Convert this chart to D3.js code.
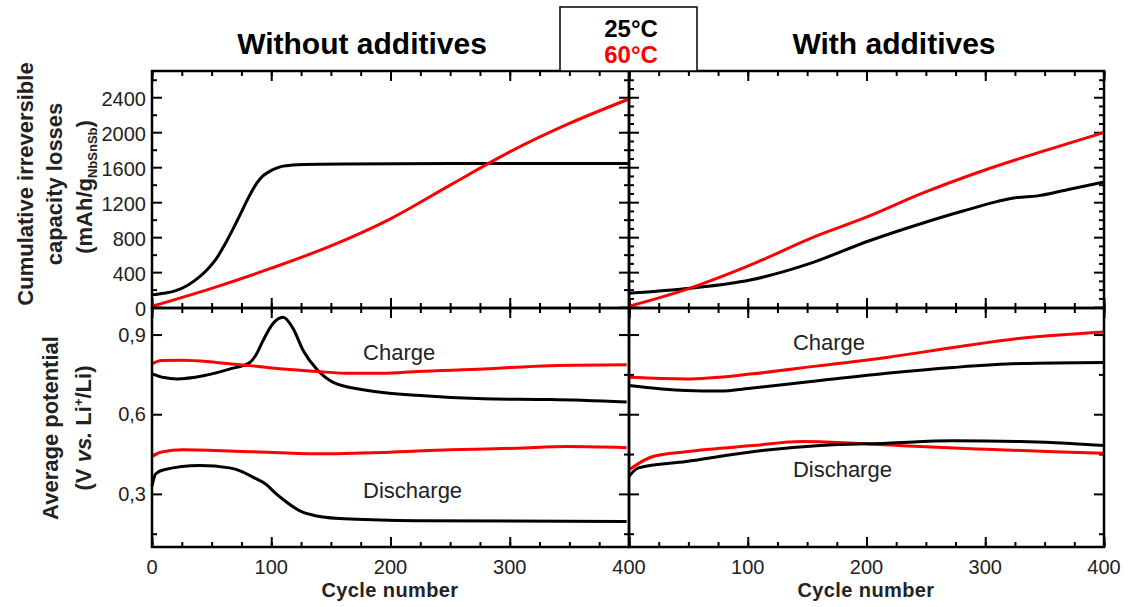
<!DOCTYPE html>
<html>
<head>
<meta charset="utf-8">
<script src="https://cdn.jsdelivr.net/npm/d3@7"></script>
<style>
  body { margin: 0; background: #fff; }
  svg text { font-family: "Liberation Sans", Arial, sans-serif; }
  .tick line { stroke: #000; stroke-width: 2; }
</style>
</head>
<body>
<div id="chart"></div>
<script>
// cycle number ticks
const cycleTicks = [0, 100, 200, 300, 400];
const cycleMinor = d3.range(0, 401, 25);

// cumulative irreversible capacity losses (mAh/g), [cycle, value]
const lossTicks = [0, 400, 800, 1200, 1600, 2000, 2400];
const lossNoAdd25 = [[0,140],[10,158],[20,188],[30,250],[40,348],[47,440],[54,555],[61,715],[68,895],[74,1060],[79,1200],[84,1330],[88,1420],[93,1500],[99,1555],[105,1592],[110,1612],[118,1625],[127,1632],[160,1638],[250,1642],[400,1642]];
const lossNoAdd60 = [[0,10],[50,215],[100,445],[150,700],[200,1010],[250,1395],[300,1775],[350,2100],[400,2380]];
const lossAdd25 = [[0,158],[51,215],[102,310],[152,498],[203,762],[245,951],[282,1102],[327,1253],[344,1272],[370,1345],[400,1430]];
const lossAdd60 = [[0,10],[51,215],[102,479],[152,781],[203,1045],[245,1291],[301,1574],[344,1763],[400,1997]];

// average potential (V vs Li+/Li), [cycle, value]
const potTicks = [0.3, 0.6, 0.9];
const potMinor = [0.15, 0.45, 0.75];
const chargeNoAdd25 = [[0,0.752],[10,0.738],[21,0.733],[43,0.745],[65,0.770],[82,0.795],[88,0.830],[93,0.876],[101,0.939],[110,0.965],[118,0.925],[127,0.838],[138,0.770],[152,0.720],[177,0.692],[222,0.671],[278,0.658],[334,0.655],[398,0.646]];
const chargeNoAdd60 = [[0,0.789],[8,0.802],[26,0.803],[54,0.795],[82,0.783],[110,0.770],[138,0.761],[166,0.754],[194,0.754],[222,0.761],[278,0.770],[334,0.783],[398,0.786]];
const dischargeNoAdd60 = [[0,0.441],[8,0.458],[26,0.466],[82,0.459],[138,0.451],[194,0.456],[250,0.466],[306,0.472],[348,0.478],[398,0.474]];
const dischargeNoAdd25 = [[0,0.329],[3,0.375],[10,0.391],[40,0.407],[65,0.398],[75,0.385],[85,0.362],[96,0.335],[103,0.305],[110,0.279],[124,0.236],[138,0.217],[166,0.205],[222,0.199],[398,0.196]];
const chargeAdd60 = [[0,0.739],[48,0.733],[104,0.752],[161,0.783],[217,0.814],[273,0.851],[330,0.886],[400,0.910]];
const chargeAdd25 = [[0,0.708],[48,0.689],[76,0.687],[104,0.699],[161,0.727],[217,0.754],[273,0.776],[330,0.791],[400,0.795]];
const dischargeAdd60 = [[0,0.391],[20,0.441],[48,0.459],[104,0.482],[146,0.497],[189,0.491],[245,0.478],[301,0.468],[358,0.459],[400,0.453]];
const dischargeAdd25 = [[0,0.366],[8,0.398],[48,0.422],[104,0.459],[161,0.482],[217,0.491],[273,0.500],[330,0.497],[400,0.482]];

const colors = {c25: "#000000", c60: "#ff0000"};

const width = 1128, height = 607;
const svg = d3.select("#chart").append("svg")
    .attr("width", width)
    .attr("height", height);

// panel geometry
const xLeft = d3.scaleLinear().domain([0, 400]).range([152, 629]);
const xRight = d3.scaleLinear().domain([0, 400]).range([629, 1104]);
const yLoss = d3.scaleLinear().domain([-10, 2700]).range([308, 71]);
const yPot = d3.scaleLinear().domain([0.1, 1.0]).range([547, 308]);

const commaFmt = d3.formatLocale({decimal: ",", thousands: ".", grouping: [3], currency: ["", ""]}).format(".1f");

function drawTicks(x, y, yMajor, yMinor) {
    const [x0, x1] = x.range();
    const [y1, y0] = y.range();
    const g = svg.append("g");
    const axes = [
        [d3.axisBottom(x).tickValues(cycleTicks), `translate(0,${y1})`, -10],
        [d3.axisBottom(x).tickValues(cycleMinor), `translate(0,${y1})`, -5],
        [d3.axisTop(x).tickValues(cycleTicks), `translate(0,${y0})`, -10],
        [d3.axisTop(x).tickValues(cycleMinor), `translate(0,${y0})`, -5],
        [d3.axisLeft(y).tickValues(yMajor), `translate(${x0},0)`, -10],
        [d3.axisLeft(y).tickValues(yMinor), `translate(${x0},0)`, -5],
        [d3.axisRight(y).tickValues(yMajor), `translate(${x1},0)`, -10],
        [d3.axisRight(y).tickValues(yMinor), `translate(${x1},0)`, -5]
    ];
    axes.forEach(([ax, tr, size]) => {
        g.append("g").attr("transform", tr)
            .call(ax.tickSize(size).tickFormat(""))
            .call(s => s.select(".domain").remove());
    });
}

function drawLine(x, y, data, color) {
    const line = d3.line()
        .x(d => x(d[0]))
        .y(d => y(d[1]))
        .curve(d3.curveMonotoneX);
    svg.append("path")
        .datum(data)
        .attr("d", line)
        .attr("fill", "none")
        .attr("stroke", color)
        .attr("stroke-width", 3)
        .attr("stroke-linejoin", "round");
}

// ticks first, frames on top
const lossMinor = d3.range(200, 2700, 400);
drawTicks(xLeft, yLoss, lossTicks, lossMinor);
drawTicks(xRight, yLoss, lossTicks, d3.range(100, 2700, 100).filter(v => v % 400));
drawTicks(xLeft, yPot, potTicks, potMinor);
drawTicks(xRight, yPot, potTicks, potMinor);

// curves
drawLine(xLeft, yLoss, lossNoAdd25, colors.c25);
drawLine(xLeft, yLoss, lossNoAdd60, colors.c60);
drawLine(xRight, yLoss, lossAdd25, colors.c25);
drawLine(xRight, yLoss, lossAdd60, colors.c60);

drawLine(xLeft, yPot, chargeNoAdd25, colors.c25);
drawLine(xLeft, yPot, chargeNoAdd60, colors.c60);
drawLine(xLeft, yPot, dischargeNoAdd60, colors.c60);
drawLine(xLeft, yPot, dischargeNoAdd25, colors.c25);
drawLine(xRight, yPot, chargeAdd60, colors.c60);
drawLine(xRight, yPot, chargeAdd25, colors.c25);
drawLine(xRight, yPot, dischargeAdd60, colors.c60);
drawLine(xRight, yPot, dischargeAdd25, colors.c25);

// panel frames
[[xLeft, yLoss], [xRight, yLoss], [xLeft, yPot], [xRight, yPot]].forEach(([x, y]) => {
    const [x0, x1] = x.range();
    const [y1, y0] = y.range();
    svg.append("rect")
        .attr("x", x0).attr("y", y0)
        .attr("width", x1 - x0).attr("height", y1 - y0)
        .attr("fill", "none")
        .attr("stroke", "#000")
        .attr("stroke-width", 2.5);
});

// tick labels
const tickFont = 20;
svg.append("g").selectAll("text")
    .data(lossTicks).join("text")
    .attr("x", 146)
    .attr("y", d => yLoss(d) + 9)
    .attr("text-anchor", "end")
    .attr("font-size", tickFont)
    .attr("fill", "#222")
    .text(d => d);

svg.append("g").selectAll("text")
    .data(potTicks).join("text")
    .attr("x", 146)
    .attr("y", d => yPot(d) + 7)
    .attr("text-anchor", "end")
    .attr("font-size", tickFont)
    .attr("fill", "#222")
    .text(d => commaFmt(d));

svg.append("g").selectAll("text")
    .data(cycleTicks).join("text")
    .attr("x", d => xLeft(d))
    .attr("y", 574)
    .attr("text-anchor", "middle")
    .attr("font-size", tickFont)
    .attr("fill", "#222")
    .text(d => d);

svg.append("g").selectAll("text")
    .data(cycleTicks.slice(1)).join("text")
    .attr("x", d => xRight(d))
    .attr("y", 574)
    .attr("text-anchor", "middle")
    .attr("font-size", tickFont)
    .attr("fill", "#222")
    .text(d => d);

// panel titles and x axis titles
[[362, 390, "Without additives"], [894, 866, "With additives"]].forEach(([tx, cx, t]) => {
    svg.append("text")
        .attr("x", tx)
        .attr("y", 54)
        .attr("text-anchor", "middle")
        .attr("font-size", 30)
        .attr("font-weight", "bold")
        .text(t);
    svg.append("text")
        .attr("x", cx)
        .attr("y", 597)
        .attr("text-anchor", "middle")
        .attr("font-size", 20)
        .attr("font-weight", "bold")
        .attr("letter-spacing", 0.4)
        .attr("fill", "#222")
        .text("Cycle number");
});

function vLabel(cx, cy, build) {
    const t = svg.append("text")
        .attr("transform", `translate(${cx},${cy}) rotate(-90)`)
        .attr("text-anchor", "middle")
        .attr("dy", "0.35em")
        .attr("font-size", 22)
        .attr("font-weight", "bold")
        .attr("fill", "#222");
    build(t);
}

vLabel(25, 184, t => t.text("Cumulative irreversible"));
vLabel(54, 184, t => t.text("capacity losses"));
vLabel(84, 187, t => {
    t.append("tspan").text("(mAh/g");
    t.append("tspan").attr("font-size", 13).attr("dy", 5).text("NbSnSb");
    t.append("tspan").attr("dy", -5).text(")");
});
vLabel(50, 428, t => t.text("Average potential"));
vLabel(83, 428, t => {
    t.append("tspan").text("(V ");
    t.append("tspan").attr("font-style", "italic").text("vs.");
    t.append("tspan").text(" Li");
    t.append("tspan").attr("font-size", 13).attr("dy", -8).text("+");
    t.append("tspan").attr("dy", 8).text("/Li)");
});

// curve annotations: [scale, cycle, potential at baseline, text]
const annot = [
    [xLeft, 177, 0.803, "Charge"],
    [xLeft, 177, 0.285, "Discharge"],
    [xRight, 138, 0.840, "Charge"],
    [xRight, 138, 0.365, "Discharge"]
];
annot.forEach(([x, c, v, t]) => {
    svg.append("text")
        .attr("x", x(c))
        .attr("y", yPot(v))
        .attr("font-size", 22)
        .attr("fill", "#222")
        .text(t);
});

// legend box
const legend = svg.append("g");
legend.append("rect")
    .attr("x", 560).attr("y", 7)
    .attr("width", 137).attr("height", 64)
    .attr("fill", "#fff")
    .attr("stroke", "#000")
    .attr("stroke-width", 1.5);
[["25°C", colors.c25, 37], ["60°C", colors.c60, 63]].forEach(([t, c, y]) => {
    legend.append("text")
        .attr("x", 631).attr("y", y)
        .attr("text-anchor", "middle")
        .attr("font-size", 24)
        .attr("font-weight", "bold")
        .attr("fill", c)
        .text(t);
});
</script>
</body>
</html>
